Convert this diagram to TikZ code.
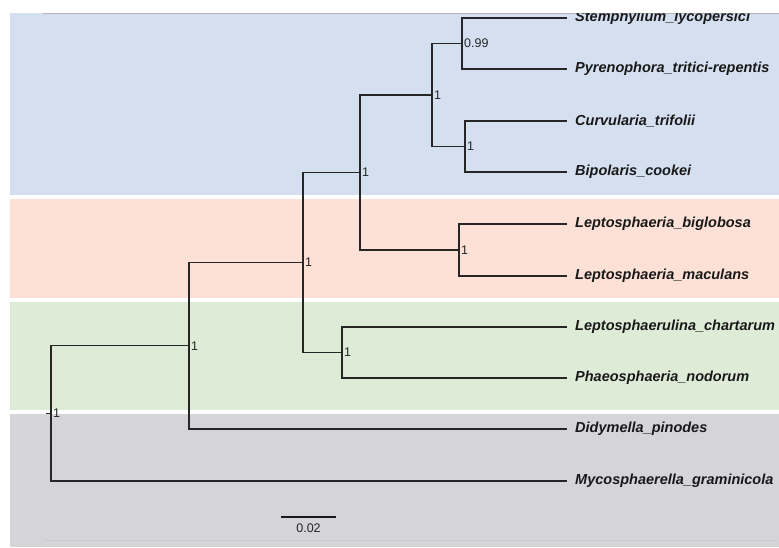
\documentclass[tikz,border=0pt]{standalone}
\usepackage{fontspec}
\newfontfamily\arialfont{Liberation Sans}
\usetikzlibrary{positioning}

\definecolor{bandblue}{RGB}{212,224,240}
\definecolor{bandsalmon}{RGB}{253,225,214}
\definecolor{bandgreen}{RGB}{222,235,214}
\definecolor{bandgray}{RGB}{212,212,217}

\begin{document}
\begin{tikzpicture}[x=1pt, y=-1pt,
    branch/.style={draw=black!85, line width=1.3pt},
    support/.style={anchor=west, inner sep=2pt, text=black!85,
        font=\arialfont\fontsize{12.5}{13}\selectfont},
    taxon/.style={inner sep=0pt, text=black!90,
        font=\arialfont\bfseries\itshape\fontsize{14.5}{16}\selectfont}]
    \useasboundingbox (0,0) rectangle (779,547);

    % 1. Background bands for the clades
    \fill[bandblue]   (10,13)  rectangle (779,195);
    \fill[bandsalmon] (10,199) rectangle (779,298);
    \fill[bandgreen]  (10,302) rectangle (779,410);
    \fill[bandgray]   (10,414) rectangle (779,547);
    \draw[black!30, line width=0.8pt] (43,13) -- (779,13);
    \draw[black!20, line width=0.8pt] (43,540) -- (778,540);

    % 2. Tips (all end at the same depth)
    \def\tipx{567}
    \coordinate (S)  at (\tipx,18);
    \coordinate (P)  at (\tipx,69);
    \coordinate (C)  at (\tipx,121);
    \coordinate (B)  at (\tipx,172);
    \coordinate (LB) at (\tipx,224);
    \coordinate (LM) at (\tipx,276);
    \coordinate (LC) at (\tipx,327);
    \coordinate (PN) at (\tipx,378);
    \coordinate (D)  at (\tipx,429);
    \coordinate (M)  at (\tipx,481);

    % 3. Internal nodes
    \coordinate (nSP)   at (462,43.5);
    \coordinate (nCB)   at (465,146.5);
    \coordinate (nPleo) at (432,95);
    \coordinate (nLep)  at (459,250);
    \coordinate (nUp)   at (360,172.5);
    \coordinate (nUl)   at (342,352.5);
    \coordinate (nMid)  at (303,262.5);
    \coordinate (nDid)  at (189,345.7);
    \coordinate (root)  at (51,413.4);
    \coordinate (stub)  at (46,413.4);

    % 4. Branches
    \draw[branch] (nSP) |- (S);
    \draw[branch] (nSP) |- (P);
    \draw[branch] (nCB) |- (C);
    \draw[branch] (nCB) |- (B);
    \draw[branch] (nPleo) |- (nSP);
    \draw[branch] (nPleo) |- (nCB);
    \draw[branch] (nLep) |- (LB);
    \draw[branch] (nLep) |- (LM);
    \draw[branch] (nUp) |- (nPleo);
    \draw[branch] (nUp) |- (nLep);
    \draw[branch] (nUl) |- (LC);
    \draw[branch] (nUl) |- (PN);
    \draw[branch] (nMid) |- (nUp);
    \draw[branch] (nMid) |- (nUl);
    \draw[branch] (nDid) |- (nMid);
    \draw[branch] (nDid) |- (D);
    \draw[branch] (root) |- (nDid);
    \draw[branch] (root) |- (M);
    \draw[branch] (stub) -- (root);

    % 5. Support values
    \node[support] (sSP)   at (nSP)   {0.99};
    \node[support] (sCB)   at (nCB)   {1};
    \node[support] (sPleo) at (nPleo) {1};
    \node[support] (sLep)  at (nLep)  {1};
    \node[support] (sUp)   at (nUp)   {1};
    \node[support] (sUl)   at (nUl)   {1};
    \node[support] (sMid)  at (nMid)  {1};
    \node[support] (sDid)  at (nDid)  {1};
    \node[support] (sRoot) at (root)  {1};

    % 6. Taxon names (top one is cut by the panel edge)
    \begin{scope}
        \clip (0,13) rectangle (779,547);
        \node[taxon, right=8pt of S]  (tS)  {Stemphylium\_lycopersici};
    \end{scope}
    \node[taxon, right=8pt of P]  (tP)  {Pyrenophora\_tritici-repentis};
    \node[taxon, right=8pt of C]  (tC)  {Curvularia\_trifolii};
    \node[taxon, right=8pt of B]  (tB)  {Bipolaris\_cookei};
    \node[taxon, right=8pt of LB] (tLB) {Leptosphaeria\_biglobosa};
    \node[taxon, right=8pt of LM] (tLM) {Leptosphaeria\_maculans};
    \node[taxon, right=8pt of LC] (tLC) {Leptosphaerulina\_chartarum};
    \node[taxon, right=8pt of PN] (tPN) {Phaeosphaeria\_nodorum};
    \node[taxon, right=8pt of D]  (tD)  {Didymella\_pinodes};
    \node[taxon, right=8pt of M]  (tM)  {Mycosphaerella\_graminicola};

    % 7. Scale bar
    \coordinate (barL) at (281,517);
    \coordinate (barR) at (336,517);
    \draw[black!90, line width=1.8pt] (barL) -- (barR);
    \node[support, anchor=north, inner sep=0pt] (barlab) at (308.5,524) {0.02};

\end{tikzpicture}
\end{document}
